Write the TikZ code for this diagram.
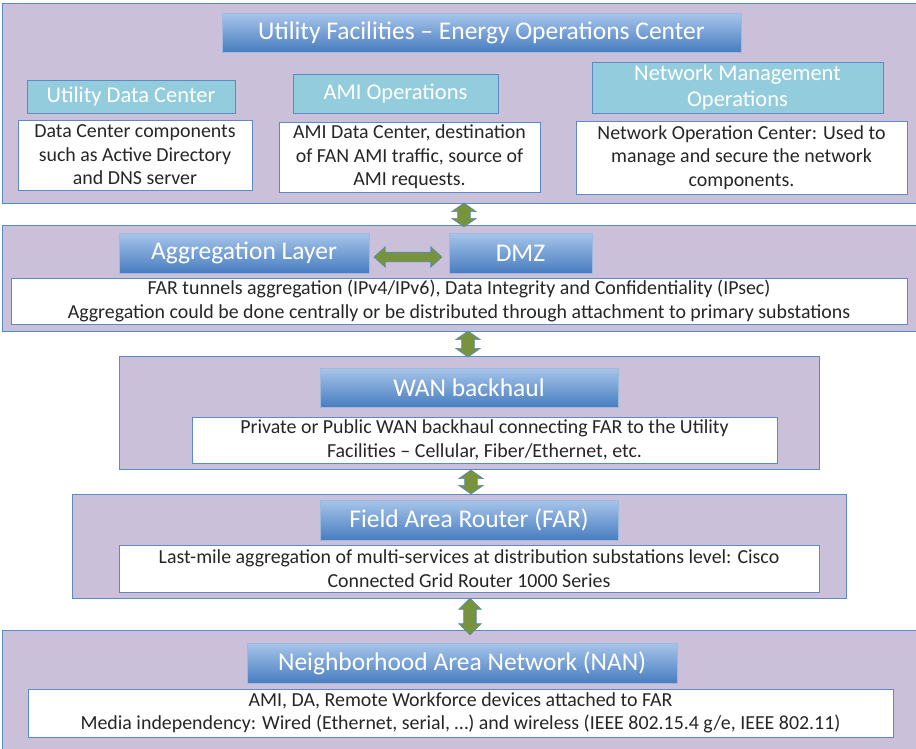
\documentclass[tikz,border=0pt]{standalone}
\usepackage{fontspec}
\setmainfont{Carlito}
\usetikzlibrary{positioning,shapes.arrows}

\definecolor{panelfill}{HTML}{CAC0DA}
\definecolor{edgeblue}{HTML}{5B8BC7}
\definecolor{headtop}{HTML}{A7C5EA}
\definecolor{headbot}{HTML}{487DC0}
\definecolor{tealfill}{HTML}{93CDDD}
\definecolor{linkgreen}{HTML}{77933C}
\definecolor{bodytext}{HTML}{262626}

% square spacer that sets the shaft thickness of a link arrow
\newcommand{\shaft}[1]{\phantom{\rule{#1}{#1}}}

\tikzset{
  panel/.style = {draw=edgeblue, fill=panelfill, line width=0.8pt, inner sep=0pt},
  headbox/.style = {draw=edgeblue!60, top color=headtop, bottom color=headbot, text=white,
    font=\fontsize{25.5}{28}\selectfont, inner sep=0pt},
  subbox/.style = {draw=edgeblue, fill=tealfill, text=white, line width=0.8pt,
    font=\fontsize{22.5}{26}\selectfont, align=center, inner sep=0pt},
  textbox/.style = {draw=edgeblue, fill=white, text=bodytext, line width=0.8pt,
    font=\fontsize{19.9}{23.5}\selectfont, align=center, inner sep=0pt},
  link/.style = {double arrow, draw=edgeblue, fill=linkgreen, line width=0.6pt,
    inner sep=0pt, minimum width=0pt, double arrow head extend=6pt, double arrow tip angle=110}
}

\begin{document}
\begin{tikzpicture}[x=1pt, y=-1pt]
  \useasboundingbox (0,0) rectangle (916,748);

  % layers, top to bottom
  \node[panel, minimum width=915pt, minimum height=200pt] (eoc) at (459.5,103) {};
  \node[panel, minimum width=915pt, minimum height=106pt] (agg) at (459.5,278) {};
  \node[panel, minimum width=700pt, minimum height=113pt] (wan) at (469,412.5) {};
  \node[panel, minimum width=774pt, minimum height=104pt] (far) at (459,546) {};
  \node[panel, minimum width=915pt, minimum height=122pt] (nan) at (459.5,691) {};

  % utility facilities
  \node[headbox, minimum width=519pt, minimum height=39pt] (eocHead) at (481.5,32.5)
    {Utility Facilities – Energy Operations Center};
  \node[subbox, minimum width=208pt, minimum height=33pt] (udc) at (131,96.5) {Utility Data Center};
  \node[textbox, minimum width=234pt, minimum height=70pt] (udcText) at (135,155)
    {Data Center components\\such as Active Directory\\and DNS server};
  \node[subbox, minimum width=205pt, minimum height=39pt] (ami) at (395.5,93.5) {AMI Operations};
  \node[textbox, minimum width=261pt, minimum height=70pt] (amiText) at (409.5,157)
    {AMI Data Center, destination\\of FAN AMI traffic, source of\\AMI requests.};
  \node[subbox, minimum width=291pt, minimum height=51pt] (nmo) at (737.5,87.5)
    {Network Management\\Operations};
  \node[textbox, minimum width=331pt, minimum height=73pt] (nmoText) at (741.5,157.5)
    {Network Operation Center: Used to\\manage and secure the network\\components.};

  % aggregation and DMZ
  \node[headbox, minimum width=250pt, minimum height=40pt] (aggHead) at (244,253) {Aggregation Layer};
  \node[headbox, minimum width=143pt, minimum height=40pt] (dmz) at (520.5,253) {DMZ};
  \node[textbox, minimum width=896pt, minimum height=46pt] (aggText) at (459,301)
    {FAR tunnels aggregation (IPv4/IPv6), Data Integrity and Confidentiality (IPsec)\\
     Aggregation could be done centrally or be distributed through attachment to primary substations};

  % WAN
  \node[headbox, minimum width=298pt, minimum height=39pt] (wanHead) at (469,387.5) {WAN backhaul};
  \node[textbox, minimum width=585pt, minimum height=46pt] (wanText) at (484.5,440)
    {Private or Public WAN backhaul connecting FAR to the Utility\\
     Facilities – Cellular, Fiber/Ethernet, etc.};

  % FAR
  \node[headbox, minimum width=298pt, minimum height=40pt] (farHead) at (469,520) {Field Area Router (FAR)};
  \node[textbox, minimum width=700pt, minimum height=47pt] (farText) at (469,568.5)
    {Last-mile aggregation of multi-services at distribution substations level: Cisco\\
     Connected Grid Router 1000 Series};

  % NAN
  \node[headbox, minimum width=430pt, minimum height=40pt] (nanHead) at (462,663) {Neighborhood Area Network (NAN)};
  \node[textbox, minimum width=865pt, minimum height=48pt] (nanText) at (460.5,713)
    {AMI, DA, Remote Workforce devices attached to FAR\\
     Media independency: Wired (Ethernet, serial, …) and wireless (IEEE 802.15.4 g/e, IEEE 802.11)};

  % links between layers
  \node[link, shape border rotate=90, minimum height=24pt] (eocAgg) at (464,215) {\shaft{12pt}};
  \node[link, shape border rotate=90, minimum height=26pt] (aggWan) at (468,344) {\shaft{12pt}};
  \node[link, shape border rotate=90, minimum height=24pt] (wanFar) at (471,482) {\shaft{12pt}};
  \node[link, shape border rotate=90, minimum height=37pt, double arrow head extend=5pt,
    double arrow tip angle=90] (farNan) at (470,616.5) {\shaft{12pt}};
  \node[link, minimum height=68pt, double arrow head extend=5.5pt,
    double arrow tip angle=85] (aggDmz) at (408,257) {\shaft{9pt}};
\end{tikzpicture}
\end{document}
